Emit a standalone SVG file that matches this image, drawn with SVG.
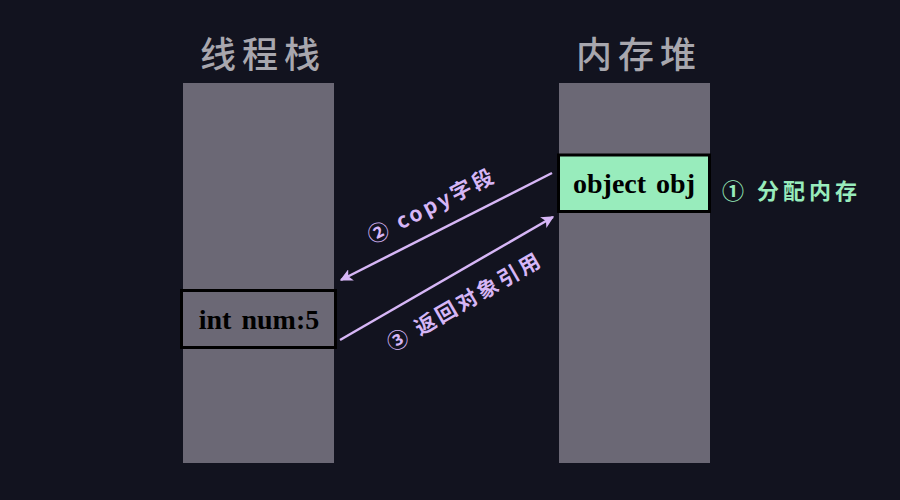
<svg xmlns="http://www.w3.org/2000/svg" width="900" height="500" viewBox="0 0 900 500">
  <defs>
    <marker id="ah" viewBox="0 0 10 10" refX="9" refY="5" markerWidth="5" markerHeight="5" orient="auto-start-reverse" markerUnits="strokeWidth">
      <path d="M0,0 L10,5 L0,10 L2.5,5 Z" fill="#d6b6f6"/>
    </marker>
    <style>
      .col { fill: #6b6875; }
      .title { font-family: "Noto Sans CJK SC", "Noto Sans", sans-serif; font-size: 36px; font-weight: 500; fill: #a8a7ae; letter-spacing: 6px; text-anchor: middle; }
      .box { stroke: #000; stroke-width: 3; }
      .boxtxt { font-family: "Liberation Serif", "Noto Sans CJK SC", serif; font-size: 28px; font-weight: 700; fill: #000; text-anchor: middle; word-spacing: 3px; }
      .lbl { font-family: "Noto Sans CJK SC", "Noto Sans", sans-serif; font-size: 21px; font-weight: 700; fill: #d6b6f6; letter-spacing: 3px; text-anchor: middle; }
      .lblg { font-family: "Noto Sans CJK SC", "Noto Sans", sans-serif; font-size: 22px; font-weight: 700; fill: #98ecbc; letter-spacing: 4px; }
      .conn { stroke: #d6b6f6; stroke-width: 2.5; fill: none; }
    </style>
  </defs>
  <rect x="0" y="0" width="900" height="500" fill="#12131f"/>

  <g id="stack">
    <rect class="col" x="183" y="83" width="151" height="380"/>
    <text class="title" x="263" y="68">线程栈</text>
  </g>
  <g id="heap">
    <rect class="col" x="559" y="83" width="151" height="380"/>
    <text class="title" x="639" y="68">内存堆</text>
  </g>
  <g id="num">
    <rect class="box col" x="181.5" y="290.5" width="154" height="57"/>
    <text class="boxtxt" x="259" y="329">int num:5</text>
  </g>
  <g id="obj">
    <rect class="box" fill="#98ecbc" x="558.5" y="155" width="151" height="56.5"/>
    <text class="boxtxt" x="634" y="193">object obj</text>
  </g>
  <g id="alloc">
    <text class="lblg" x="722" y="199">①  分配内存</text>
  </g>

  <g id="connectors">
    <line class="conn" x1="552" y1="173" x2="341" y2="280" marker-end="url(#ah)"/>
    <line class="conn" x1="340" y1="340" x2="553" y2="217" marker-end="url(#ah)"/>
    <text class="lbl" transform="translate(432,206) rotate(-27)" x="0" y="7">②  copy字段</text>
    <text class="lbl" transform="translate(465,302) rotate(-30)" x="0" y="7">③  返回对象引用</text>
  </g>
</svg>
